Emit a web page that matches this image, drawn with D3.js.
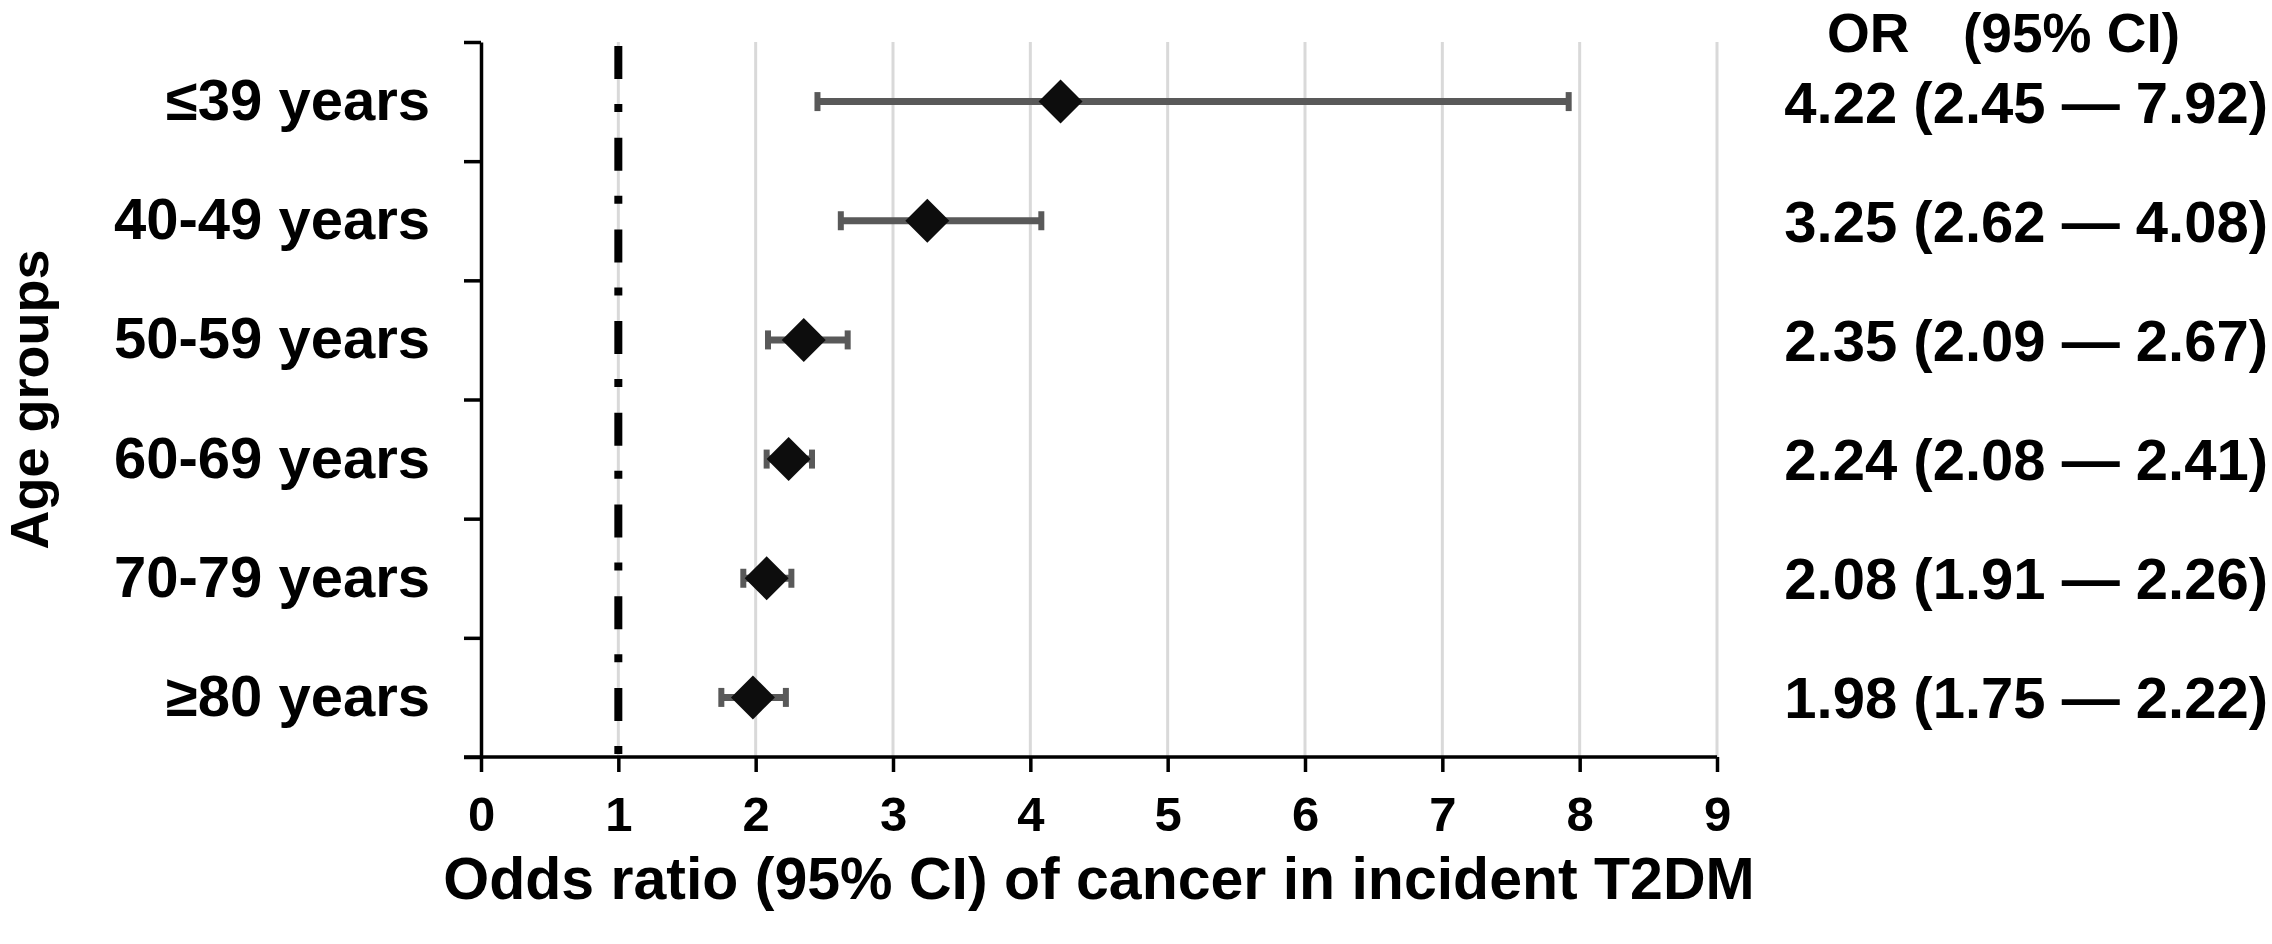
<!DOCTYPE html>
<html><head><meta charset="utf-8">
<script src="https://cdn.jsdelivr.net/npm/d3@7"></script>
<style>body{margin:0;background:#fff}svg{display:block}</style>
</head><body>
<svg id="chart" width="2272" height="944"></svg>
<script>
const categories = ["≤39 years","40-49 years","50-59 years","60-69 years","70-79 years","≥80 years"];
const orValues = [4.22, 3.25, 2.35, 2.24, 2.08, 1.98];
const ciLower  = [2.45, 2.62, 2.09, 2.08, 1.91, 1.75];
const ciUpper  = [7.92, 4.08, 2.67, 2.41, 2.26, 2.22];
const xTicks = [0,1,2,3,4,5,6,7,8,9];
const refValue = 1;
const xTitle = "Odds ratio (95% CI) of cancer in incident T2DM";
const yTitle = "Age groups";
const headerOR = "OR";
const headerCI = "(95% CI)";

const rows = categories.map((c,i)=>({cat:c, or:orValues[i], lo:ciLower[i], hi:ciUpper[i]}));
const fmt = d3.format(".2f");
const font = "Arial, 'Liberation Sans', sans-serif";

const svg = d3.select("#chart");
const m = {left:481, right:1717, top:42, bottom:757};
const x = d3.scaleLinear().domain([0,9]).range([m.left,m.right]);
const y = d3.scaleBand().domain(categories).range([m.top,m.bottom]);
const yEdge = d3.scaleLinear().domain([0,categories.length]).range([m.top,m.bottom]);

// gridlines
svg.append("g").selectAll("line").data(xTicks.filter(d=>d>0)).join("line")
  .attr("x1",d=>x(d)).attr("x2",d=>x(d))
  .attr("y1",m.top).attr("y2",m.bottom)
  .attr("stroke","#d9d9d9").attr("stroke-width",3);

// reference line at OR = 1
svg.append("line")
  .attr("x1",x(refValue)).attr("x2",x(refValue))
  .attr("y1",m.top+4).attr("y2",m.bottom)
  .attr("stroke","#000").attr("stroke-width",8)
  .attr("stroke-dasharray","33,25,8,25.7");

// x axis
const gx = svg.append("g").attr("transform",`translate(0,${m.bottom})`)
  .call(d3.axisBottom(x).tickValues(xTicks).tickFormat(d3.format("d")).tickSize(15).tickSizeOuter(0).tickPadding(24));
gx.select(".domain").attr("d",`M${m.left-17},0H${m.right}`).attr("stroke","#000").attr("stroke-width",3.5);
gx.selectAll(".tick line").attr("stroke","#000").attr("stroke-width",3.5);
gx.selectAll(".tick text").attr("font-family",font).attr("font-weight","bold").attr("font-size",49).attr("fill","#000");

// y axis (ticks at band edges)
const gy = svg.append("g").attr("transform",`translate(${m.left},0)`)
  .call(d3.axisLeft(yEdge).tickValues(d3.range(categories.length+1)).tickFormat("").tickSize(17).tickSizeOuter(0));
gy.select(".domain").attr("stroke","#000").attr("stroke-width",3.5);
gy.selectAll(".tick line").attr("stroke","#000").attr("stroke-width",3.5);

// category labels
const gyl = svg.append("g").attr("transform",`translate(${m.left},0)`)
  .call(d3.axisLeft(y).tickSize(0).tickPadding(51));
gyl.select(".domain").remove();
gyl.selectAll(".tick text").attr("font-family",font).attr("font-weight","bold").attr("font-size",58).attr("fill","#000");

// error bars
const eb = svg.append("g").selectAll("g").data(rows).join("g")
  .attr("transform",d=>`translate(0,${y(d.cat)+y.bandwidth()/2})`);
eb.append("line").attr("x1",d=>x(d.lo)).attr("x2",d=>x(d.hi)).attr("y1",0).attr("y2",0)
  .attr("stroke","#595959").attr("stroke-width",7);
eb.append("line").attr("x1",d=>x(d.lo)).attr("x2",d=>x(d.lo)).attr("y1",-9.5).attr("y2",9.5)
  .attr("stroke","#595959").attr("stroke-width",6);
eb.append("line").attr("x1",d=>x(d.hi)).attr("x2",d=>x(d.hi)).attr("y1",-9.5).attr("y2",9.5)
  .attr("stroke","#595959").attr("stroke-width",6);
eb.append("path").attr("d",d3.symbol(d3.symbolSquare,967)())
  .attr("transform",d=>`translate(${x(d.or)},0) rotate(45)`)
  .attr("fill","#0d0d0d");

// right-hand text column
svg.append("text").attr("x",1827).attr("y",52).text(headerOR)
  .attr("font-family",font).attr("font-weight","bold").attr("font-size",55);
svg.append("text").attr("x",1963).attr("y",52).text(headerCI)
  .attr("font-family",font).attr("font-weight","bold").attr("font-size",55);
svg.append("g").selectAll("text").data(rows).join("text")
  .attr("x",2268).attr("y",d=>y(d.cat)+y.bandwidth()/2+21)
  .attr("text-anchor","end")
  .text(d=>`${fmt(d.or)} (${fmt(d.lo)} \u2014 ${fmt(d.hi)})`)
  .attr("font-family",font).attr("font-weight","bold").attr("font-size",58);

// axis titles
svg.append("text").attr("x",(m.left+m.right)/2).attr("y",899).attr("text-anchor","middle")
  .text(xTitle).attr("font-family",font).attr("font-weight","bold").attr("font-size",59);
svg.append("text").attr("transform",`translate(48,${(m.top+m.bottom)/2}) rotate(-90)`)
  .attr("text-anchor","middle").text(yTitle)
  .attr("font-family",font).attr("font-weight","bold").attr("font-size",54);
</script>
</body></html>
